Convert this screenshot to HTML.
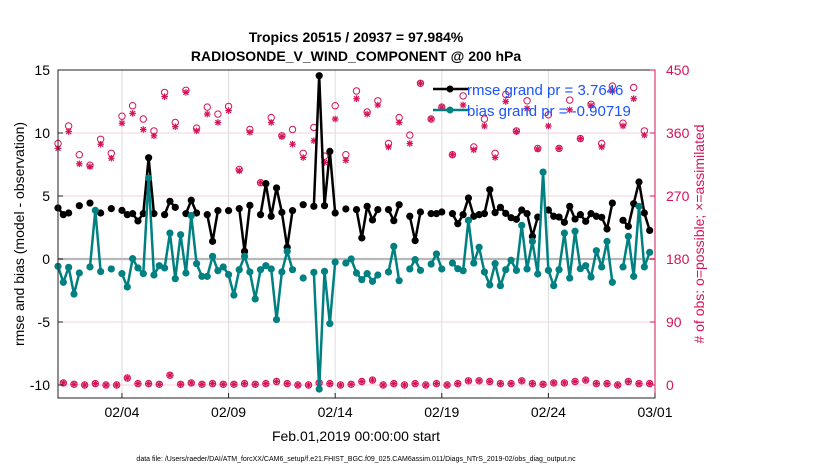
<!DOCTYPE html>
<html><head><meta charset="utf-8">
<style>
html,body{margin:0;padding:0;background:#fff;}
svg{display:block;font-family:"Liberation Sans",Arial,sans-serif;}
</style></head>
<body>
<svg id="chart" width="830" height="470" viewBox="0 0 830 470" xmlns="http://www.w3.org/2000/svg">
<rect x="0" y="0" width="830" height="470" fill="#fff"/>
<text x="356" y="42" text-anchor="middle" font-size="14" font-weight="bold">Tropics 20515 / 20937 = 97.984%</text>
<text x="356" y="61" text-anchor="middle" font-size="14" font-weight="bold">RADIOSONDE_V_WIND_COMPONENT @ 200 hPa</text>
<g id="grid"></g>
<g id="marks"></g>
<g id="axes"></g>
<text transform="translate(24,234) rotate(-90)" text-anchor="middle" font-size="14">rmse and bias (model - observation)</text>
<text transform="translate(704,234) rotate(-90)" text-anchor="middle" font-size="14" fill="#d4145a"># of obs: o=possible; ×=assimilated</text>
<text x="356" y="441" text-anchor="middle" font-size="14">Feb.01,2019 00:00:00 start</text>
<text x="356" y="461" text-anchor="middle" font-size="7">data file: /Users/raeder/DAI/ATM_forcXX/CAM6_setup/f.e21.FHIST_BGC.f09_025.CAM6assim.011/Diags_NTrS_2019-02/obs_diag_output.nc</text>
<g>
<line x1="433" y1="89" x2="468" y2="89" stroke="#000" stroke-width="2.5"/>
<circle cx="450" cy="89" r="3.5" fill="#000"/>
<text x="467" y="95" font-size="15" fill="#1a53ff">rmse grand pr = 3.7646</text>
<line x1="433" y1="110" x2="468" y2="110" stroke="#008080" stroke-width="2.5"/>
<circle cx="450" cy="110" r="3.5" fill="#008080"/>
<text x="467" y="116" font-size="15" fill="#1a53ff">bias grand pr = -0.90719</text>
</g>
</svg>
<script>
const rmse=[4.05,3.52,3.65,null,4.23,null,4.44,null,3.65,null,4.0,null,3.86,3.52,3.6,3.02,3.6,8.04,3.6,null,3.52,4.58,4.1,null,3.6,4.66,3.65,null,3.52,1.4,3.84,null,3.84,null,4.0,0.61,4.26,null,3.52,5.98,3.39,5.64,3.7,0.93,3.84,null,4.31,null,4.18,14.55,4.23,8.54,3.65,null,3.97,null,3.92,1.67,4.18,3.10,3.92,null,3.92,3.04,4.31,null,3.39,1.46,3.73,null,3.60,3.60,3.73,null,3.60,2.8,3.52,4.84,3.39,3.52,3.60,5.50,3.68,4.10,3.62,3.28,3.15,3.89,3.60,1.80,3.33,null,3.89,3.39,3.33,2.91,4.18,3.17,3.52,2.99,3.60,3.39,3.31,2.38,4.44,null,3.07,2.59,4.39,6.11,3.65,2.27];
const bias=[-0.58,-1.85,-0.66,-2.78,-1.11,null,-0.63,3.86,-1.0,null,-0.79,null,-1.16,-2.22,0.03,-0.71,-1.16,6.43,-1.27,-0.53,-0.71,2.06,-1.56,1.93,-1.11,3.44,-0.37,-1.38,-1.38,0.21,-0.93,-0.63,-1.24,-2.86,-0.85,0.21,-1.03,-3.17,-0.85,-0.53,-0.79,-4.81,-1.03,0.61,-0.85,null,-1.51,null,-1.06,-10.32,-0.98,-5.13,-0.24,null,-0.32,0.0,-1.11,-1.64,-1.16,-1.77,-1.27,null,-1.03,1.0,-1.72,null,-0.79,-0.05,-0.9,null,-0.4,0.4,-0.79,null,-0.32,-0.77,-0.93,3.07,-0.32,0.93,-1.03,-2.06,-0.37,-2.12,-0.85,-0.1,-0.9,2.67,-0.79,1.40,-1.19,6.9,-0.9,-2.12,-0.85,2.06,-1.51,2.2,-0.77,-0.53,-1.43,0.66,-0.63,1.40,-1.85,null,-0.63,1.8,-1.38,4.18,-0.63,0.53];
const possible=[345,3,370,1,329,0,314,2,351,0,331,0,384,10,399,2,380,2,363,1,418,14,375,1,421,3,367,1,397,2,387,1,398,1,308,2,365,1,289,2,382,5,356,2,365,0,331,0,368,3,327,2,399,0,329,1,420,5,390,7,406,0,345,2,382,0,357,2,431,0,380,2,397,0,329,2,413,6,340,6,380,5,331,2,415,2,363,6,406,2,338,1,386,3,338,3,407,5,352,7,401,2,345,2,427,0,374,5,425,2,363,2];
const assimilated=[338,3,362,1,316,0,312,2,344,0,324,0,374,10,388,2,365,2,356,1,412,14,369,1,418,3,363,1,387,2,375,1,392,1,306,2,361,1,289,2,375,5,355,2,344,0,325,0,349,3,318,2,380,0,321,1,409,5,387,7,400,0,340,2,375,0,345,2,431,0,380,2,397,0,329,2,400,6,336,6,370,5,325,2,405,2,362,6,395,2,337,1,370,3,338,3,393,5,352,7,399,2,340,2,420,0,370,5,409,2,357,2];
const xTickLabels=["02/04","02/09","02/14","02/19","02/24","03/01"];
const xTickDays=[3,8,13,18,23,28];
const leftTicks=[15,10,5,0,-5,-10];
const rightTicks=[450,360,270,180,90,0];

const PX0=58,PX1=655,PY0=70,PY1=398;
const NDAYS=28;
function xDay(d){return PX0+d*(PX1-PX0)/NDAYS;}
function xIdx(i){return xDay(i/4);}
function yL(v){return 259-v*12.6;}
function yR(c){return 385-c*(315/450);}
const NS="http://www.w3.org/2000/svg";
function mk(tag,attrs,parent){const e=document.createElementNS(NS,tag);for(const k in attrs)e.setAttribute(k,attrs[k]);parent.appendChild(e);return e;}
const grid=document.getElementById('grid'),marks=document.getElementById('marks'),axes=document.getElementById('axes');
const PINK="#d4145a";
// horizontal grid
leftTicks.forEach(v=>{const l=mk('line',{x1:PX0,x2:PX1,y1:yL(v),y2:yL(v),stroke:'#f3d3de','stroke-width':1},grid);

});
xTickDays.forEach(d=>{const l=mk('line',{x1:xDay(d),x2:xDay(d),y1:PY0,y2:PY1,stroke:'#dcdcdc','stroke-width':1},grid);

});
// zero line
const z=mk('line',{x1:PX0,x2:PX1,y1:yL(0),y2:yL(0),stroke:'#b8b8b8','stroke-width':2.2},grid);


// series lines
function drawSeries(arr,color,name){
  let seg=[];
  const segs=[];
  arr.forEach((v,i)=>{if(v===null){if(seg.length)segs.push(seg);seg=[];}else seg.push([xIdx(i),yL(v)]);});
  if(seg.length)segs.push(seg);
  segs.forEach(s=>{if(s.length>1){const p=mk('polyline',{points:s.map(q=>q.join(',')).join(' '),fill:'none',stroke:color,'stroke-width':2.5,'stroke-linejoin':'round'},marks);
  
  }});
  arr.forEach((v,i)=>{if(v===null)return;const c=mk('circle',{cx:xIdx(i),cy:yL(v),r:3.6,fill:color},marks);
  
  });
}
// counts
possible.forEach((c,i)=>{const o=mk('circle',{cx:xIdx(i),cy:yR(c),r:3.2,fill:'none',stroke:PINK,'stroke-width':1},marks);

});
assimilated.forEach((c,i)=>{const x=xIdx(i),y=yR(c),s=3.3;
const g=mk('g',{stroke:PINK,'stroke-width':1.2},marks);


mk('line',{x1:x,x2:x,y1:y-s,y2:y+s},g);mk('line',{x1:x-s,x2:x+s,y1:y,y2:y},g);
mk('line',{x1:x-s*0.75,x2:x+s*0.75,y1:y-s*0.75,y2:y+s*0.75},g);mk('line',{x1:x-s*0.75,x2:x+s*0.75,y1:y+s*0.75,y2:y-s*0.75},g);});
drawSeries(rmse,'#000','rmse');
drawSeries(bias,'#008080','bias');
// axes frame
const b=mk('rect',{x:PX0,y:PY0,width:PX1-PX0,height:PY1-PY0,fill:'none',stroke:'#222','stroke-width':1},axes);


const rs=mk('line',{x1:PX1,x2:PX1,y1:PY0,y2:PY1,stroke:PINK,'stroke-width':1},axes);


leftTicks.forEach(v=>{mk('line',{x1:PX0,x2:PX0+5,y1:yL(v),y2:yL(v),stroke:'#222'},axes);
const t=mk('text',{x:PX0-8,y:yL(v)+5,'text-anchor':'end','font-size':14},axes);t.textContent=v;

});
rightTicks.forEach(c=>{mk('line',{x1:PX1-5,x2:PX1,y1:yR(c),y2:yR(c),stroke:PINK},axes);
const t=mk('text',{x:PX1+11,y:yR(c)+5,'text-anchor':'start','font-size':14,fill:PINK},axes);t.textContent=c;

});
xTickDays.forEach((d,k)=>{mk('line',{x1:xDay(d),x2:xDay(d),y1:PY1-5,y2:PY1,stroke:'#222'},axes);
const t=mk('text',{x:xDay(d),y:PY1+19,'text-anchor':'middle','font-size':14},axes);t.textContent=xTickLabels[k];

});
</script>
</body></html>
